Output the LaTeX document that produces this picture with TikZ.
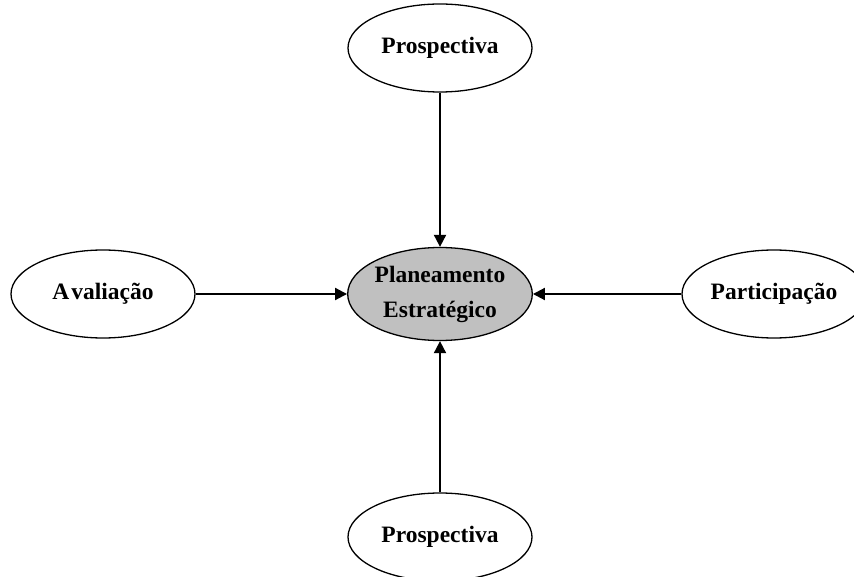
\documentclass[tikz,border=0pt]{standalone}
\usepackage{fontspec}
\setmainfont{Liberation Serif}
\usetikzlibrary{shapes.geometric,arrows.meta}
\definecolor{hubgray}{RGB}{192,192,192}
\tikzset{
  bubble/.style={ellipse, draw=black, line width=1.3pt, inner sep=0pt,
    minimum width=184pt, minimum height=88pt,
    font=\fontsize{23.5}{35}\selectfont\bfseries, align=center},
  hub/.style={bubble, fill=hubgray, minimum height=93pt},
  link/.style={line width=2pt, -{Triangle[length=12pt,width=12pt]}}
}
\begin{document}
\begin{tikzpicture}[x=1pt,y=-1pt]
  \useasboundingbox (0,0) rectangle (854,577);
  \node[hub] (plan) at (440,294) {Planeamento\\Estratégico};
  \node[bubble] (top) at (440,48) {Prospectiva};
  \node[bubble] (left) at (103,294) {A\kern2pt valiação};
  \node[bubble] (right) at (774,294) {Participação};
  \node[bubble] (bottom) at (440,537) {Prospectiva};
  \draw[link] (top) -- (plan);
  \draw[link] (left) -- (plan);
  \draw[link] (right) -- (plan);
  \draw[link] (bottom) -- (plan);
\end{tikzpicture}
\end{document}
